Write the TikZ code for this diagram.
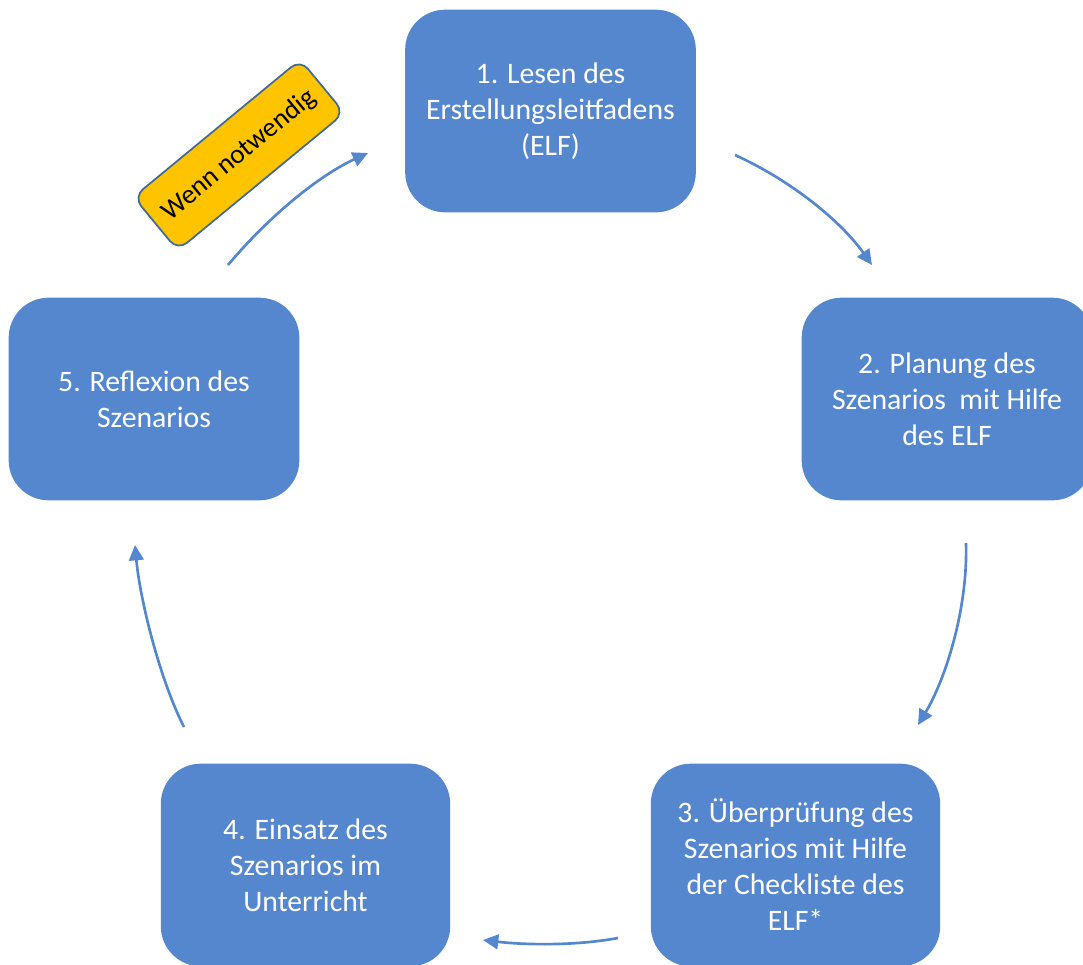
\documentclass[tikz,border=0pt]{standalone}
\usepackage{fontspec}
\setmainfont{Carlito}
\usetikzlibrary{arrows.meta}
\definecolor{boxblue}{RGB}{85,135,206}
\definecolor{lblyellow}{RGB}{255,196,0}
\definecolor{lblborder}{RGB}{65,105,150}
\tikzset{
  stepbox/.style={fill=boxblue, draw=none, rounded corners=30pt, text=white,
    align=center, font=\fontsize{22.3}{27}\selectfont, inner sep=0pt},
  flow/.style={draw=boxblue, line width=2pt, -{Triangle[length=11.5pt,width=11pt]}},
  tag/.style={fill=lblyellow, draw=lblborder, line width=1.3pt, rounded corners=9pt,
    align=center, font=\fontsize{20.5}{24}\selectfont, text=black,
    minimum width=162pt, minimum height=52pt, inner sep=0pt}
}
\begin{document}
\begin{tikzpicture}[x=0.75pt,y=-0.75pt]
\useasboundingbox (0,0) rectangle (1083,965);
\clip (0,0) rectangle (1083,965);
\node[stepbox, minimum width=218pt, minimum height=152pt] (s1) at (550.5,111) {1. Lesen des\\Erstellungsleitfadens\\(ELF)};
\node[stepbox, minimum width=218pt, minimum height=152pt] (s2) at (947,399) {2. Planung des\\Szenarios\ \ mit Hilfe\\des ELF};
\node[stepbox, minimum width=217pt, minimum height=152pt] (s3) at (795.5,865) {3. Überprüfung des\\Szenarios mit Hilfe\\der Checkliste des\\ELF*};
\node[stepbox, minimum width=217pt, minimum height=152pt] (s4) at (305.5,865) {4. Einsatz des\\Szenarios im\\Unterricht};
\node[stepbox, minimum width=218pt, minimum height=152pt] (s5) at (154,399) {5. Reflexion des\\Szenarios};
\node[tag, rotate=39.5] (t) at (239,155) {Wenn notwendig};
\coordinate (a1s) at (735,155); \coordinate (a1e) at (872,265);
\coordinate (a2s) at (966,543); \coordinate (a2e) at (918,725);
\coordinate (a3s) at (618,938); \coordinate (a3e) at (483,940);
\coordinate (a4s) at (184,727); \coordinate (a4e) at (135,545);
\coordinate (a5s) at (228,265); \coordinate (a5e) at (368,153);
\draw[flow] (a1s) .. controls (790,180) and (840,220) .. (a1e);
\draw[flow] (a2s) .. controls (968,610) and (945,680) .. (a2e);
\draw[flow] (a3s) .. controls (575,946) and (525,945) .. (a3e);
\draw[flow] (a4s) .. controls (160,680) and (140,600) .. (a4e);
\draw[flow] (a5s) .. controls (270,215) and (320,175) .. (a5e);
\end{tikzpicture}
\end{document}
